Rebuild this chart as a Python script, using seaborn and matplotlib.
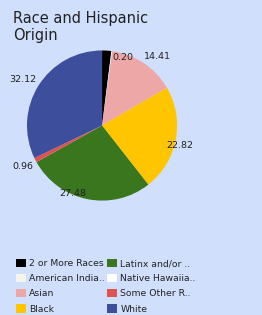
import matplotlib
matplotlib.use("Agg")
import matplotlib.pyplot as plt
import numpy as np
import seaborn as sns

# data (percent of population)
groups = ["2 or More Races", "American India..", "Asian", "Black",
          "Latinx and/or ..", "Native Hawaiia..", "Some Other R..", "White"]
values = [2.00, 0.20, 14.41, 22.82, 27.48, 0.01, 0.96, 32.12]
value_labels = ["", "0.20", "14.41", "22.82", "27.48", "", "0.96", "32.12"]
colors = ["#000000", "#f5f3ea", "#eea7a7", "#ffc600", "#39761d",
          "#ffffff", "#e05150", "#3d4f9c"]
# value label placement: distance from centre (radii), clockwise nudge (deg)
label_dist = [1.1, 0.95, 1.18, 1.07, 0.99, 1.1, 1.19, 1.22]
label_nudge = [0, 9.4, 5, 3.5, 11.6, 0, 0, -2]

BG = "#d0dffc"

sns.set_theme(style="white")
plt.rcParams["font.family"] = ["DejaVu Sans"]

fig = plt.figure(figsize=(2.62, 3.15), dpi=100, facecolor=BG)
ax = fig.add_axes([0.103, 0.362, 0.573, 0.479])
ax.set_facecolor(BG)

wedges, texts = ax.pie(values, labels=value_labels, colors=colors,
                       startangle=90, counterclock=False,
                       labeldistance=1.12, radius=1.0,
                       wedgeprops=dict(linewidth=0),
                       textprops=dict(fontsize=6.8, color="#222222"))
for w, t, d, n in zip(wedges, texts, label_dist, label_nudge):
    ang = np.deg2rad((w.theta1 + w.theta2) / 2 - n)
    t.set_position((d * np.cos(ang), d * np.sin(ang)))
    t.set_ha("center")
    t.set_va("center")
ax.set_xlim(-1, 1)
ax.set_ylim(-1, 1)
ax.set_aspect("equal")

fig.text(0.05, 0.965, "Race and Hispanic\nOrigin", fontsize=10.5,
         color="#222222", ha="left", va="top", linespacing=1.15)

fig.legend(wedges, groups, ncol=2, loc="lower left",
           bbox_to_anchor=(0.03, -0.022), frameon=False,
           fontsize=6.7, handlelength=1.0, handleheight=1.0,
           handletextpad=0.4, columnspacing=0.25, labelspacing=0.62,
           labelcolor="#222222")

fig.savefig("out.png", dpi=100, facecolor=BG)
